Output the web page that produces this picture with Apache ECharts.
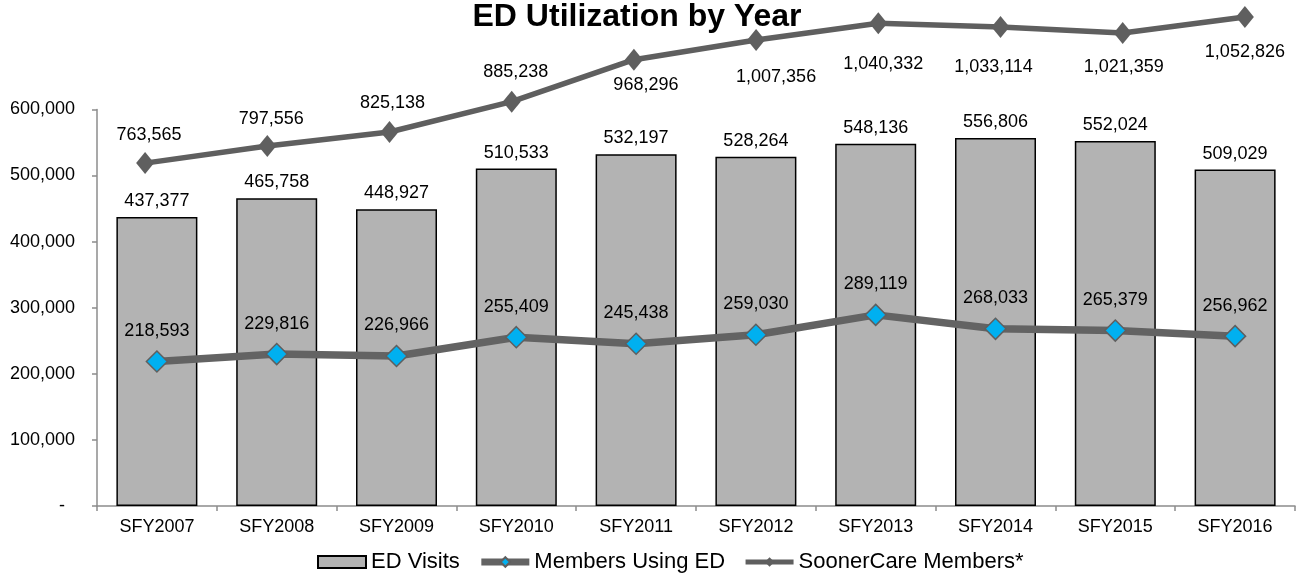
<!DOCTYPE html>
<html>
<head>
<meta charset="utf-8">
<script src="https://cdn.jsdelivr.net/npm/echarts@6/dist/echarts.min.js"></script>
<style>
  html, body { margin: 0; padding: 0; background: #fff; }
  #chart { width: 1297px; height: 574px; }
</style>
</head>
<body>
<div id="chart"></div>
<script>
// ---- data ----
const categories = ['SFY2007', 'SFY2008', 'SFY2009', 'SFY2010', 'SFY2011', 'SFY2012', 'SFY2013', 'SFY2014', 'SFY2015', 'SFY2016'];
const edVisits = [437377, 465758, 448927, 510533, 532197, 528264, 548136, 556806, 552024, 509029];
const membersUsingED = [218593, 229816, 226966, 255409, 245438, 259030, 289119, 268033, 265379, 256962];
const soonerCareMembers = [763565, 797556, 825138, 885238, 968296, 1007356, 1040332, 1033114, 1021359, 1052826];
const seriesNames = ['ED Visits', 'Members Using ED', 'SoonerCare Members*'];
const titleText = 'ED Utilization by Year';

// ---- label placement (style, relative offsets of labels from their points) ----
const soonerLabelOffsets = [[4, -28], [4, -27], [3, -28.5], [4, -30], [12, 25], [20, 37.5], [5, 40.5], [-7, 40], [1, 34], [0, 35]];

const FONT = "'Liberation Sans', Arial, Helvetica, sans-serif";
const fmt = v => Number(v).toLocaleString('en-US');

const chart = echarts.init(document.getElementById('chart'), null, { renderer: 'canvas' });
chart.setOption({
  animation: false,
  backgroundColor: '#ffffff',
  textStyle: { fontFamily: FONT },
  title: {
    text: titleText,
    left: 637,
    textAlign: 'center',
    top: 1,
    padding: 0,
    textStyle: { fontFamily: FONT, fontSize: 32, fontWeight: 'bold', color: '#000' }
  },
  legend: {
    data: [
      { name: seriesNames[0], icon: 'rect' },
      { name: seriesNames[1], lineStyle: { width: 7, color: '#636363' } },
      { name: seriesNames[2], lineStyle: { width: 5, color: '#5f5f5f' } }
    ],
    left: 317,
    top: 551,
    padding: 0,
    itemWidth: 48,
    itemHeight: 12,
    itemGap: 18,
    textStyle: { fontFamily: FONT, fontSize: 22, color: '#000' }
  },
  grid: [
    { left: 97, width: 1198, top: 109.4, height: 396.6, outerBoundsMode: 'none', containLabel: false },
    { left: 84, width: 1222, top: 3.3, height: 343.4, outerBoundsMode: 'none', containLabel: false }
  ],
  xAxis: [
    {
      type: 'category', gridIndex: 0, data: categories, boundaryGap: true,
      axisLine: { show: true, lineStyle: { color: '#8c8c8c', width: 1.5 } },
      axisTick: { show: true, length: 5, lineStyle: { color: '#8c8c8c', width: 1.5 } },
      axisLabel: { margin: 12, fontSize: 18, color: '#000', fontFamily: FONT, interval: 0 },
      splitLine: { show: false }
    },
    {
      type: 'category', gridIndex: 1, data: categories, boundaryGap: true, show: false
    }
  ],
  yAxis: [
    {
      type: 'value', gridIndex: 0, min: 0, max: 600000, interval: 100000,
      axisLine: { show: true, lineStyle: { color: '#8c8c8c', width: 1.5 } },
      axisTick: { show: true, length: 5, lineStyle: { color: '#8c8c8c', width: 1.5 } },
      axisLabel: {
        margin: 22, fontSize: 18, color: '#000', fontFamily: FONT,
        formatter: v => v === 0 ? '-  ' : fmt(v)
      },
      splitLine: { show: false }
    },
    {
      type: 'value', gridIndex: 1, min: 400000, max: 1080000, show: false,
      splitLine: { show: false }
    }
  ],
  series: [
    {
      name: seriesNames[0],
      type: 'bar',
      xAxisIndex: 0, yAxisIndex: 0,
      data: edVisits,
      barWidth: 81,
      itemStyle: { color: '#b3b3b3', borderColor: '#000', borderWidth: 1.5 },
      label: {
        show: true, position: 'top', distance: 7,
        fontSize: 18, color: '#000', fontFamily: FONT,
        formatter: p => fmt(p.value)
      },
      z: 2
    },
    {
      name: seriesNames[1],
      type: 'line',
      xAxisIndex: 0, yAxisIndex: 0,
      data: membersUsingED,
      symbol: 'diamond',
      symbolSize: 21,
      showAllSymbol: true,
      clip: false,
      lineStyle: { color: '#636363', width: 7.5 },
      itemStyle: { color: '#00b0f0', borderColor: '#5f5f5f', borderWidth: 1.5 },
      label: {
        show: true, position: 'inside', offset: [0, -30.5],
        fontSize: 18, color: '#000', fontFamily: FONT,
        formatter: p => fmt(p.value)
      },
      z: 4
    },
    {
      name: seriesNames[2],
      type: 'line',
      xAxisIndex: 1, yAxisIndex: 1,
      data: soonerCareMembers.map((v, i) => ({ value: v, label: { offset: soonerLabelOffsets[i] } })),
      symbol: 'diamond',
      symbolSize: [18, 22],
      showAllSymbol: true,
      clip: false,
      lineStyle: { color: '#5f5f5f', width: 5.5 },
      itemStyle: { color: '#5f5f5f', borderColor: '#5f5f5f', borderWidth: 0 },
      label: {
        show: true, position: 'inside',
        fontSize: 18, color: '#000', fontFamily: FONT,
        formatter: p => fmt(p.value)
      },
      z: 4
    }
  ]
});
</script>
</body>
</html>
